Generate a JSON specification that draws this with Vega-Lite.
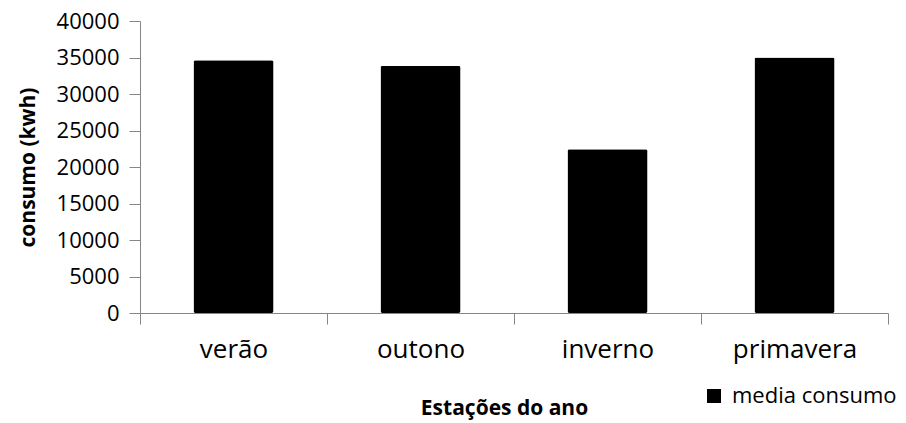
{
  "$schema": "https://vega.github.io/schema/vega-lite/v6.json",
  "width": 748,
  "height": 292,
  "autosize": {"type": "none"},
  "padding": {"left": 140, "top": 21, "right": 18, "bottom": 110},
  "background": "white",
  "config": {
    "font": "Open Sans",
    "view": {"stroke": null}
  },
  "data": {
    "values": [
      {"estacao": "verão", "consumo": 34630, "serie": "media consumo"},
      {"estacao": "outono", "consumo": 33850, "serie": "media consumo"},
      {"estacao": "inverno", "consumo": 22420, "serie": "media consumo"},
      {"estacao": "primavera", "consumo": 35000, "serie": "media consumo"}
    ]
  },
  "mark": {"type": "bar", "cornerRadius": 2, "width": {"band": 0.428}},
  "encoding": {
    "x": {
      "field": "estacao",
      "type": "nominal",
      "sort": null,
      "scale": {"paddingInner": 0, "paddingOuter": 0},
      "axis": {
        "title": "Estações do ano",
        "titleFontSize": 21,
        "titleFontWeight": "bold",
        "titleColor": "black",
        "titlePadding": 35,
        "titleX": 364,
        "labelAngle": 0,
        "labelFontSize": 26,
        "labelColor": "black",
        "labelPadding": 12,
        "tickBand": "extent",
        "tickSize": 11,
        "tickColor": "#868686",
        "domainColor": "#868686",
        "grid": false
      }
    },
    "y": {
      "field": "consumo",
      "type": "quantitative",
      "scale": {"domain": [0, 40000], "nice": false},
      "axis": {
        "title": "consumo (kwh)",
        "titleFontSize": 21,
        "titleFontWeight": "bold",
        "titleColor": "black",
        "titlePadding": 18,
        "values": [0, 5000, 10000, 15000, 20000, 25000, 30000, 35000, 40000],
        "format": "d",
        "labelFontSize": 22,
        "labelColor": "black",
        "labelPadding": 10,
        "tickSize": 11,
        "tickColor": "#868686",
        "domainColor": "#868686",
        "grid": false
      }
    },
    "color": {
      "field": "serie",
      "type": "nominal",
      "scale": {"range": ["black"]},
      "legend": {
        "title": null,
        "orient": "none",
        "legendX": 563,
        "legendY": 364,
        "symbolType": "square",
        "symbolSize": 196,
        "symbolStrokeWidth": 0,
        "labelFontSize": 22,
        "labelLimit": 400,
        "labelColor": "black",
        "labelOffset": 7
      }
    }
  }
}
